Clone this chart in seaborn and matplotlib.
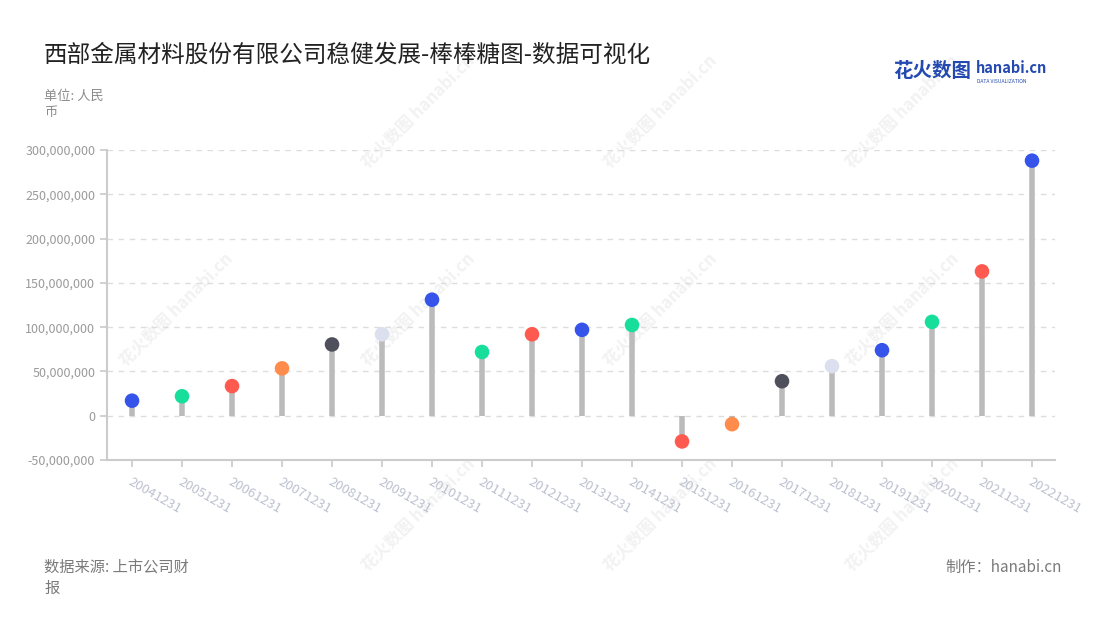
import matplotlib
matplotlib.use("Agg")
import matplotlib.pyplot as plt
import matplotlib.ticker as mticker
import seaborn as sns
import pandas as pd

# data
periods = ["20041231", "20051231", "20061231", "20071231", "20081231",
           "20091231", "20101231", "20111231", "20121231", "20131231",
           "20141231", "20151231", "20161231", "20171231", "20181231",
           "20191231", "20201231", "20211231", "20221231"]
values = [17e6, 22e6, 33.5e6, 53.5e6, 80.5e6,
          92e6, 131e6, 72e6, 92e6, 97e6,
          102.5e6, -29e6, -9.5e6, 39e6, 56e6,
          74e6, 106e6, 163e6, 288e6]
dot_colors = ["#3654EA", "#17DE9B", "#FF5A4F", "#FF8C4D", "#50505C",
              "#DCDFEE", "#3654EA", "#17DE9B", "#FF5A4F", "#3654EA",
              "#17DE9B", "#FF5A4F", "#FF8C4D", "#50505C", "#DCDFEE",
              "#3654EA", "#17DE9B", "#FF5A4F", "#3654EA"]

df = pd.DataFrame({"period": periods, "value": values})

sns.set_theme(style="white")
plt.rcParams["font.family"] = ["Noto Sans CJK SC", "DejaVu Sans"]

fig = plt.figure(figsize=(11, 6.2), dpi=100)
ax = fig.add_axes([0.0973, 0.258, 0.8618, 0.5])
ax.set_zorder(2)
ax.patch.set_alpha(0)

# faint watermarks, behind the chart
for wx, wy in [(0.38, 0.82), (0.60, 0.82), (0.82, 0.82),
               (0.16, 0.50), (0.38, 0.50), (0.60, 0.50), (0.82, 0.50),
               (0.38, 0.17), (0.60, 0.17), (0.82, 0.17)]:
    fig.text(wx, wy, "花火数图 hanabi.cn", rotation=45, fontsize=12,
             color="#F2F2F2", fontweight="bold", ha="center", va="center",
             zorder=0)

x = list(range(len(periods)))
ax.vlines(x, 0, df["value"], color="#BBBBBB", linewidth=4, zorder=2)
sns.scatterplot(data=df, x="period", y="value", hue="period",
                palette=dot_colors, s=110, edgecolor="none",
                legend=False, ax=ax, zorder=3)

ax.set_xlim(-0.5, len(periods) - 0.54)
ax.set_ylim(-50e6, 300e6)
ax.set_yticks([-50e6, 0, 50e6, 100e6, 150e6, 200e6, 250e6, 300e6])
ax.yaxis.set_major_formatter(mticker.FuncFormatter(lambda v, p: f"{v:,.0f}"))
ax.grid(axis="y", color="#DDDDDD", linestyle=(0, (4, 4)), linewidth=1)
ax.set_axisbelow(True)

ax.set_xlabel("")
ax.set_ylabel("")
for side in ["top", "right"]:
    ax.spines[side].set_visible(False)
for side in ["left", "bottom"]:
    ax.spines[side].set_color("#CCCCCC")
    ax.spines[side].set_linewidth(1.5)

ax.tick_params(axis="y", length=5, color="#CCCCCC", labelcolor="#9A9A9A",
               labelsize=9, left=True)
ax.tick_params(axis="x", length=5, color="#CCCCCC", labelcolor="#BCC0CF",
               labelsize=9.5, bottom=True, pad=6)
for lab in ax.get_xticklabels():
    lab.set_rotation(-30)
    lab.set_ha("left")
    lab.set_rotation_mode("anchor")

# titles and notes
fig.text(0.04, 0.911, "西部金属材料股份有限公司稳健发展-棒棒糖图-数据可视化",
         fontsize=17, color="#222222", va="center")
fig.text(0.04, 0.845, "单位: 人民", fontsize=9.5, color="#8C8C8C", va="center")
fig.text(0.04, 0.818, "币", fontsize=9.5, color="#8C8C8C", va="center")
fig.text(0.04, 0.085, "数据来源: 上市公司财", fontsize=11, color="#7A7A7A", va="center")
fig.text(0.04, 0.051, "报", fontsize=11, color="#7A7A7A", va="center")
fig.text(0.965, 0.085, "制作：hanabi.cn", fontsize=11, color="#7A7A7A",
         va="center", ha="right")

# logo
fig.text(0.812, 0.884, "花火数图", fontsize=14, color="#2449B0", fontweight="bold",
         va="center")
fig.text(0.887, 0.890, "hanabi.cn", fontsize=10.5, color="#2449B0",
         fontweight="bold", va="center")
fig.text(0.888, 0.868, "DATA VISUALIZATION", fontsize=3.6, color="#2449B0",
         va="center")

fig.savefig("out.png", dpi=100)
